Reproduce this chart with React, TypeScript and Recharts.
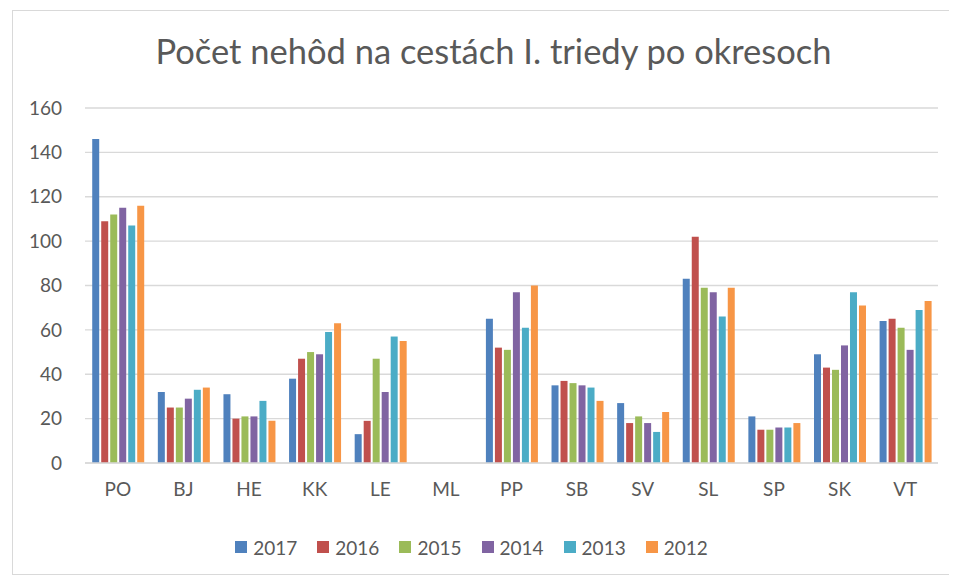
import { BarChart, Bar, XAxis, YAxis, CartesianGrid, Legend } from 'recharts'

const districts = ['PO', 'BJ', 'HE', 'KK', 'LE', 'ML', 'PP', 'SB', 'SV', 'SL', 'SP', 'SK', 'VT']
const y2017 = [146, 32, 31, 38, 13, 0, 65, 35, 27, 83, 21, 49, 64]
const y2016 = [109, 25, 20, 47, 19, 0, 52, 37, 18, 102, 15, 43, 65]
const y2015 = [112, 25, 21, 50, 47, 0, 51, 36, 21, 79, 15, 42, 61]
const y2014 = [115, 29, 21, 49, 32, 0, 77, 35, 18, 77, 16, 53, 51]
const y2013 = [107, 33, 28, 59, 57, 0, 61, 34, 14, 66, 16, 77, 69]
const y2012 = [116, 34, 19, 63, 55, 0, 80, 28, 23, 79, 18, 71, 73]
const yTicks = [0, 20, 40, 60, 80, 100, 120, 140, 160]

const series = [
  { key: '2017', values: y2017, color: '#4f81bd' },
  { key: '2016', values: y2016, color: '#c0504d' },
  { key: '2015', values: y2015, color: '#9bbb59' },
  { key: '2014', values: y2014, color: '#8064a2' },
  { key: '2013', values: y2013, color: '#4bacc6' },
  { key: '2012', values: y2012, color: '#f79646' },
]

const data = districts.map((d, i) => {
  const row: any = { name: d }
  series.forEach(s => { row[s.key] = s.values[i] })
  return row
})

const font = 'Lato, "Open Sans", sans-serif'
const textColor = '#595959'

const LegendContent = () => (
  <div style={{ display: 'flex', justifyContent: 'center', height: 24, alignItems: 'center', fontFamily: font }}>
    {series.map(s => (
      <div key={s.key} style={{ display: 'flex', alignItems: 'center', marginRight: 20 }}>
        <span style={{ width: 12, height: 12, background: s.color, marginRight: 6, display: 'inline-block' }} />
        <span style={{ fontSize: 19, color: textColor }}>{s.key}</span>
      </div>
    ))}
  </div>
)

export default function App() {
  return (
    <div style={{
      position: 'relative', marginLeft: 4, marginTop: 2, width: 941, height: 565,
      border: '1px solid #d9d9d9', boxSizing: 'border-box', background: '#fff',
    }}>
      <div style={{
        position: 'absolute', top: 19, left: 11, width: 939, textAlign: 'center',
        fontFamily: font, fontSize: 34.5, color: textColor,
      }}>
        Počet nehôd na cestách I. triedy po okresoch
      </div>
      <BarChart width={939} height={563} data={data}
        margin={{ top: 97, right: 14, left: 12, bottom: 15 }}
        barCategoryGap="11%" barGap={2}>
        <CartesianGrid vertical={false} stroke="#d9d9d9" strokeWidth={1.3} />
        <XAxis dataKey="name" height={72} tickLine={false} tickSize={0} tickMargin={20}
          axisLine={{ stroke: '#d9d9d9', strokeWidth: 1.3 }}
          tick={{ fill: textColor, fontSize: 19, fontFamily: font }} />
        <YAxis width={60} ticks={yTicks} domain={[0, 160]} axisLine={false} tickLine={false}
          tickSize={0} tickMargin={23}
          tick={{ fill: textColor, fontSize: 19, fontFamily: font }} />
        <Legend verticalAlign="bottom" content={<LegendContent />} />
        {series.map(s => (
          <Bar key={s.key} dataKey={s.key} fill={s.color} isAnimationActive={false} />
        ))}
      </BarChart>
    </div>
  )
}
